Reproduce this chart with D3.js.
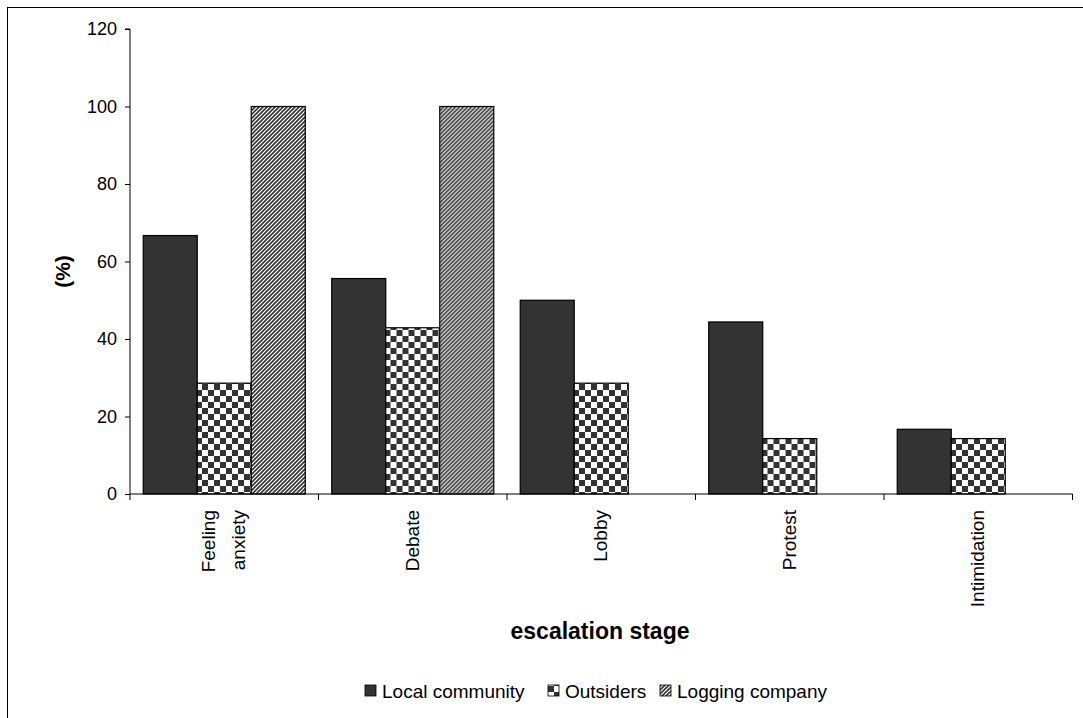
<!DOCTYPE html>
<html>
<head>
<meta charset="utf-8">
<script src="https://cdn.jsdelivr.net/npm/d3@7"></script>
<style>
  html, body { margin: 0; padding: 0; background: #fff; }
  svg { display: block; font-family: "Liberation Sans", Arial, sans-serif; }
</style>
</head>
<body>
<svg id="chart" width="1083" height="718"></svg>
<script>
// Escalation stages and the share (%) of each actor group at each stage
const categories = ["Feeling anxiety", "Debate", "Lobby", "Protest", "Intimidation"];
const categoryLines = [["Feeling", "anxiety"], ["Debate"], ["Lobby"], ["Protest"], ["Intimidation"]];
const seriesNames = ["Local community", "Outsiders", "Logging company"];
const localCommunity = [66.7, 55.6, 50.0, 44.4, 16.7];
const outsiders = [28.6, 42.9, 28.6, 14.3, 14.3];
const loggingCompany = [100, 100, 0, 0, 0];
const yTicks = [0, 20, 40, 60, 80, 100, 120];

const seriesValues = [localCommunity, outsiders, loggingCompany];
const fills = ["url(#solid)", "url(#checker)", "url(#hatch)"];

const svg = d3.select("#chart");

// Fill patterns
const defs = svg.append("defs");
const solid = defs.append("pattern").attr("id", "solid")
  .attr("patternUnits", "userSpaceOnUse").attr("width", 4).attr("height", 4);
solid.append("rect").attr("width", 4).attr("height", 4).attr("fill", "#333333");

const checker = defs.append("pattern").attr("id", "checker")
  .attr("patternUnits", "userSpaceOnUse").attr("width", 12).attr("height", 12);
checker.append("rect").attr("width", 12).attr("height", 12).attr("fill", "#ffffff");
checker.append("rect").attr("x", 0).attr("y", 0).attr("width", 6).attr("height", 6).attr("fill", "#333333");
checker.append("rect").attr("x", 6).attr("y", 6).attr("width", 6).attr("height", 6).attr("fill", "#333333");

const hatch = defs.append("pattern").attr("id", "hatch")
  .attr("patternUnits", "userSpaceOnUse").attr("width", 4).attr("height", 4);
hatch.append("rect").attr("width", 4).attr("height", 4).attr("fill", "#ffffff");
hatch.append("path").attr("d", "M-1,1 L1,-1 M0,4 L4,0 M3,5 L5,3")
  .attr("stroke", "#333333").attr("stroke-width", 1.6);

// Outer frame
svg.append("rect").attr("x", 7.5).attr("y", 7.5).attr("width", 1090).attr("height", 720)
  .attr("fill", "none").attr("stroke", "#000").attr("stroke-width", 1);

const plotLeft = 130, plotRight = 1072.5, plotTop = 29, plotBottom = 494;

const x0 = d3.scaleBand().domain(categories).range([plotLeft, plotRight]).padding(0);
const x1 = d3.scaleBand().domain(seriesNames).range([0, x0.bandwidth()])
  .paddingInner(0).paddingOuter(0.245);
const y = d3.scaleLinear().domain([0, 120]).range([plotBottom, plotTop]);

// Bars
const groups = svg.append("g").selectAll("g")
  .data(categories)
  .join("g")
  .attr("transform", d => `translate(${x0(d)},0)`);

groups.selectAll("rect")
  .data((c, i) => seriesNames.map((s, k) => ({ s, k, v: seriesValues[k][i] })).filter(d => d.v > 0))
  .join("rect")
  .attr("x", d => x1(d.s))
  .attr("y", d => y(d.v))
  .attr("width", x1.bandwidth())
  .attr("height", d => y(0) - y(d.v))
  .attr("fill", d => fills[d.k])
  .attr("stroke", "#000")
  .attr("stroke-width", 1.2);

// Y axis
const yAxis = svg.append("g")
  .attr("transform", `translate(${plotLeft},0)`)
  .call(d3.axisLeft(y).tickValues(yTicks).tickSize(5).tickPadding(8).tickFormat(d3.format("d")));
yAxis.selectAll("text").attr("font-size", 18).attr("fill", "#000")
  .attr("font-family", "Liberation Sans, Arial, sans-serif");
yAxis.selectAll("line").attr("stroke", "#000");
yAxis.select(".domain").attr("stroke", "#000").attr("d", `M-5,${plotTop}H0V${plotBottom}`);

// X axis baseline and category boundary ticks
const xg = svg.append("g");
xg.append("line").attr("x1", plotLeft).attr("x2", plotRight)
  .attr("y1", plotBottom).attr("y2", plotBottom).attr("stroke", "#000");
const boundaries = categories.map(c => x0(c)).concat([x0(categories[categories.length - 1]) + x0.bandwidth()]);
xg.selectAll("line.tick").data(boundaries).join("line").attr("class", "tick")
  .attr("x1", d => d).attr("x2", d => d)
  .attr("y1", plotBottom).attr("y2", plotBottom + 6).attr("stroke", "#000");

// Rotated category labels
const lineGap = 30;
categories.forEach((c, i) => {
  const lines = categoryLines[i];
  const cx = x0(c) + x0.bandwidth() / 2;
  lines.forEach((t, j) => {
    const lx = cx + (j - (lines.length - 1) / 2) * lineGap + 6;
    svg.append("text")
      .attr("transform", `translate(${lx},510) rotate(-90)`)
      .attr("text-anchor", "end")
      .attr("font-size", 19)
      .text(t);
  });
});

// Axis titles
svg.append("text")
  .attr("transform", `translate(70,${(plotTop + plotBottom) / 2 + 10}) rotate(-90)`)
  .attr("text-anchor", "middle").attr("font-weight", "bold").attr("font-size", 21)
  .text("(%)");

svg.append("text")
  .attr("x", 600).attr("y", 639)
  .attr("text-anchor", "middle").attr("font-weight", "bold").attr("font-size", 23)
  .text("escalation stage");

// Legend
const legend = svg.append("g").attr("transform", "translate(365,698)");
const legendX = [0, 183, 295];
seriesNames.forEach((s, k) => {
  const g = legend.append("g").attr("transform", `translate(${legendX[k]},0)`);
  g.append("rect").attr("x", 0).attr("y", -13).attr("width", 11).attr("height", 11)
    .attr("fill", fills[k]).attr("stroke", "#000").attr("stroke-width", 0.8);
  g.append("text").attr("x", 17).attr("y", 0).attr("font-size", 19).text(s);
});
</script>
</body>
</html>
